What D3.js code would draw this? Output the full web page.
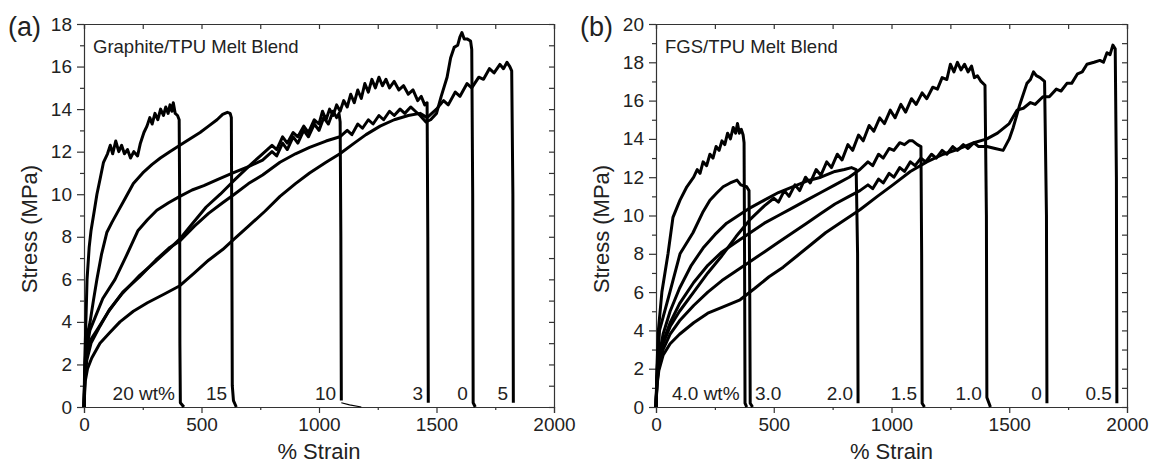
<!DOCTYPE html>
<html>
<head>
<meta charset="utf-8">
<script src="https://cdn.jsdelivr.net/npm/d3@7"></script>
<style>
  body { margin: 0; background: #fff; }
  svg { display: block; font-family: "Liberation Sans", Arial, sans-serif; }
  .domain { stroke: #333; stroke-width: 1.2; }
  .tick line { stroke: #333; stroke-width: 1.2; }
</style>
</head>
<body>
<div id="chart"></div>
<script>
// ---- Graphite/TPU melt blend: [strain %, stress MPa] ----
const graphite20 = [[0,0],[3,2],[8,4],[13,6],[22,7.5],[30,8.3],[45,9.3],[55,10],[70,10.8],[83,11.5],[100,11.9],
  [112,12.3],[122,11.9],[135,12.5],[148,12.0],[160,12.3],[172,11.9],[185,12.1],[198,11.7],[212,12.0],[228,11.8],
  [240,12.4],[255,12.9],[268,13.2],[280,13.6],[290,13.3],[302,13.8],[314,13.5],[326,14.0],[338,13.7],[348,14.1],
  [358,13.8],[366,14.2],[374,13.9],[380,14.3],[388,13.8],[398,13.7],[405,13.5],[407,10],[408,3],[410,0.2],[425,0]];
const graphite15 = [[0,0],[4,2],[12,3.3],[26,4.0],[40,5.0],[55,6.0],[75,7.2],[97,8.2],[120,8.7],[140,9.1],[175,9.8],
  [210,10.5],[250,11.0],[290,11.4],[325,11.7],[365,12.0],[408,12.3],[450,12.6],[494,12.9],[530,13.2],[566,13.5],
  [590,13.75],[610,13.85],[622,13.8],[627,13.6],[629,8],[631,1],[636,0.3],[648,0]];
const graphite10 = [[0,0],[4,1.6],[12,2.8],[25,3.6],[47,4.2],[80,5.1],[132,6.0],[180,7.1],[230,8.3],[270,8.8],
  [310,9.25],[360,9.6],[408,9.9],[460,10.2],[510,10.4],[570,10.7],[634,11.0],[700,11.3],[760,11.6],[800,12.0],
  [820,11.8],[845,12.4],[865,12.1],[890,12.7],[910,12.4],[935,13.0],[955,12.7],[980,13.3],[1000,13.0],[1020,13.6],
  [1040,13.3],[1060,13.9],[1075,13.6],[1085,13.8],[1090,13.4],[1093,8],[1095,0.3]];
const graphite10Tail = [[1095,0.2],[1130,0.1],[1180,0]];
const graphite3 = [[0,0],[4,1.3],[12,2.2],[30,3.0],[68,3.8],[110,4.6],[160,5.3],[238,6.2],[300,6.8],[360,7.4],
  [408,7.9],[460,8.6],[520,9.4],[580,10.0],[634,10.6],[700,11.3],[760,11.9],[800,12.3],[820,12.1],[845,12.7],
  [865,12.4],[890,12.9],[910,12.7],[935,13.2],[955,12.9],[980,13.5],[1000,13.3],[1015,13.9],[1030,13.5],
  [1045,14.0],[1060,13.7],[1075,14.2],[1090,13.9],[1105,14.4],[1120,14.1],[1135,14.7],[1150,14.3],[1165,14.9],
  [1180,14.5],[1195,15.2],[1210,14.8],[1225,15.4],[1240,15.0],[1255,15.5],[1270,15.1],[1285,15.4],[1300,15.0],
  [1320,15.3],[1340,14.9],[1360,15.1],[1380,14.7],[1400,14.9],[1420,14.4],[1435,14.6],[1450,14.2],[1460,14.3],
  [1463,8],[1465,0.2]];
const graphite0 = [[0,0],[3,1.3],[9,2.3],[25,3.1],[60,3.7],[105,4.5],[165,5.4],[235,6.1],[305,6.9],[365,7.5],
  [408,7.8],[470,8.5],[530,9.1],[590,9.6],[640,10.0],[700,10.5],[760,10.9],[834,11.5],[900,11.9],[960,12.2],
  [1030,12.5],[1089,12.7],[1120,13.0],[1140,12.8],[1165,13.3],[1185,13.1],[1210,13.5],[1230,13.3],[1255,13.7],
  [1275,13.5],[1300,13.9],[1320,13.7],[1345,14.0],[1365,13.8],[1390,14.1],[1410,13.9],[1430,13.7],[1455,13.4],
  [1475,13.5],[1500,13.8],[1520,14.6],[1545,15.5],[1560,16.4],[1575,16.9],[1590,17.0],[1600,17.4],[1608,17.6],
  [1618,17.3],[1630,17.3],[1645,17.2],[1650,16.8],[1654,10],[1656,0.2],[1665,0]];
const graphite5 = [[0,0],[5,1.2],[15,1.8],[33,2.3],[68,3.0],[110,3.5],[153,4.0],[210,4.5],[270,4.9],[340,5.3],
  [408,5.7],[470,6.3],[530,6.9],[590,7.4],[635,7.85],[700,8.5],[770,9.2],[834,9.9],[900,10.5],[960,11.0],
  [1030,11.5],[1089,11.9],[1150,12.4],[1200,12.8],[1260,13.2],[1320,13.5],[1380,13.7],[1430,13.8],[1460,13.6],
  [1500,14.0],[1530,14.4],[1550,14.2],[1580,14.8],[1600,14.6],[1630,15.2],[1650,15.0],[1680,15.5],[1700,15.4],
  [1725,15.9],[1745,15.7],[1770,16.1],[1785,15.9],[1800,16.2],[1812,16.0],[1820,15.8],[1825,10],[1827,0.2]];

// ---- FGS/TPU melt blend ----
const fgs40 = [[0,0],[4,2],[10,4],[25,6],[51,8],[72,9.9],[102,10.8],[131,11.5],[160,12.0],[175,12.4],[187,12.2],
  [200,12.8],[215,12.6],[229,13.2],[242,13.0],[255,13.6],[268,13.4],[280,13.9],[292,13.7],[304,14.3],[316,14.0],
  [328,14.6],[338,14.3],[346,14.8],[354,14.3],[362,14.5],[370,14.2],[374,13.8],[376,8],[378,0.2],[385,0]];
const fgs30 = [[0,0],[5,2],[15,4],[59,6],[102,8],[157,9.1],[200,10.2],[229,10.8],[260,11.2],[285,11.5],[315,11.7],
  [344,11.85],[360,11.6],[385,11.5],[395,11.3],[398,6],[400,0.2],[410,0]];
const fgs20 = [[0,0],[4,1.5],[12,2.6],[30,3.8],[60,5.0],[100,6.2],[150,7.4],[200,8.3],[250,9.0],[300,9.6],[350,10.0],
  [400,10.4],[460,10.8],[520,11.2],[580,11.5],[640,11.8],[700,12.0],[760,12.3],[800,12.4],[830,12.5],[850,12.4],
  [856,8],[858,0.2]];
const fgs15 = [[0,0],[4,1.4],[12,2.4],[30,3.4],[60,4.4],[100,5.4],[160,6.5],[220,7.4],[280,8.1],[340,8.6],[400,9.1],
  [460,9.6],[520,10.0],[580,10.4],[640,10.8],[700,11.2],[760,11.6],[820,12.0],[866,12.4],[900,12.8],[920,12.6],
  [945,13.2],[965,13.0],[990,13.5],[1010,13.4],[1035,13.8],[1055,13.7],[1075,13.9],[1090,13.9],[1110,13.7],
  [1125,13.6],[1128,8],[1130,0.2],[1140,0]];
const fgs10 = [[0,0],[4,1.3],[12,2.3],[30,3.3],[60,4.2],[100,5.0],[160,6.0],[220,7.0],[280,7.9],[340,8.9],[400,9.8],
  [460,10.5],[500,10.9],[520,10.7],[545,11.3],[565,11.0],[590,11.6],[610,11.3],[635,12.0],[655,11.7],[680,12.4],
  [700,12.1],[725,12.8],[745,12.5],[770,13.2],[790,12.9],[815,13.7],[835,13.4],[860,14.2],[880,13.9],[905,14.7],
  [925,14.4],[950,15.1],[970,14.8],[995,15.5],[1015,15.1],[1040,15.8],[1060,15.4],[1085,16.1],[1105,15.8],
  [1130,16.4],[1150,16.1],[1175,16.7],[1195,16.6],[1215,17.2],[1235,17.1],[1250,17.9],[1265,17.5],[1280,18.0],
  [1295,17.6],[1310,17.9],[1325,17.5],[1340,17.8],[1352,17.2],[1365,17.3],[1380,17.0],[1397,16.8],[1403,10],
  [1405,0.5],[1420,0]];
const fgs0 = [[0,0],[4,1.2],[12,2.1],[30,3.0],[60,3.8],[100,4.5],[160,5.3],[220,6.0],[280,6.6],[340,7.1],[400,7.6],
  [460,8.1],[520,8.6],[580,9.1],[640,9.6],[700,10.1],[760,10.6],[820,11.0],[866,11.3],[900,11.6],[920,11.4],
  [945,11.9],[965,11.7],[990,12.2],[1010,12.0],[1035,12.5],[1055,12.3],[1080,12.8],[1100,12.6],[1125,13.0],
  [1145,12.8],[1170,13.2],[1190,13.0],[1215,13.4],[1235,13.2],[1260,13.6],[1280,13.4],[1305,13.7],[1325,13.5],
  [1350,13.8],[1370,13.6],[1405,13.6],[1440,13.5],[1474,13.4],[1500,14.0],[1517,14.6],[1545,15.8],[1575,16.9],
  [1590,17.1],[1603,17.5],[1615,17.3],[1631,17.2],[1650,17.0],[1658,10],[1660,0.2]];
const fgs05 = [[0,0],[4,1.1],[12,1.9],[30,2.7],[60,3.3],[100,3.8],[160,4.4],[220,4.9],[280,5.2],[357,5.6],[420,6.2],
  [480,6.8],[540,7.3],[600,7.9],[660,8.5],[720,9.1],[780,9.6],[866,10.3],[940,11.0],[1006,11.6],[1080,12.3],
  [1150,12.8],[1220,13.2],[1291,13.5],[1350,13.8],[1405,14.0],[1450,14.3],[1500,14.8],[1533,15.5],[1560,15.6],
  [1590,15.9],[1610,15.8],[1643,16.2],[1670,16.2],[1700,16.6],[1720,16.5],[1745,16.9],[1765,16.9],[1790,17.4],
  [1810,17.5],[1830,17.9],[1860,18.0],[1885,18.1],[1900,18.0],[1915,18.5],[1928,18.4],[1940,18.9],[1950,18.7],
  [1955,12],[1957,0.2]];

// curve labels: text, strain of the break, side of the break line
const graphiteLabels = [["20 wt%", 408, "left"], ["15", 630, "left"], ["10", 1094, "left"],
  ["3", 1464, "left"], ["0", 1655, "left"], ["5", 1826, "left"]];
const fgsLabels = [["4.0 wt%", 376, "left"], ["3.0", 399, "right"], ["2.0", 858, "left"], ["1.5", 1130, "left"],
  ["1.0", 1405, "left"], ["0", 1660, "left"], ["0.5", 1957, "left"]];

const strainTicks = [0, 500, 1000, 1500, 2000];
const strainMinor = [250, 750, 1250, 1750];

const svg = d3.select("#chart").append("svg")
  .attr("width", 1152)
  .attr("height", 464);

drawPanel({
  left: 84, right: 554, top: 24, bottom: 407,
  yMax: 18, letter: "(a)", title: "Graphite/TPU Melt Blend",
  curves: [graphite20, graphite15, graphite10, graphite3, graphite0, graphite5],
  thin: [graphite10Tail],
  labels: graphiteLabels
});
drawPanel({
  left: 656, right: 1127, top: 24, bottom: 407,
  yMax: 20, letter: "(b)", title: "FGS/TPU Melt Blend",
  curves: [fgs40, fgs30, fgs20, fgs15, fgs10, fgs0, fgs05],
  thin: [],
  labels: fgsLabels
});

function drawPanel(p) {
  const x = d3.scaleLinear().domain([0, 2000]).range([p.left, p.right]);
  const y = d3.scaleLinear().domain([0, p.yMax]).range([p.bottom, p.top]);
  const yMajor = d3.range(0, p.yMax + 1, 2);
  const yMinor = d3.range(1, p.yMax, 2);

  const g = svg.append("g");

  // bottom / left axes, ticks outward
  g.append("g").attr("transform", `translate(0,${p.bottom})`)
    .call(d3.axisBottom(x).tickValues(strainTicks).tickSize(6).tickPadding(5).tickFormat(d3.format("d")))
    .call(a => a.selectAll("text").style("font-size", "19px").attr("fill", "#222"));
  g.append("g").attr("transform", `translate(0,${p.bottom})`)
    .call(d3.axisBottom(x).tickValues(strainMinor).tickSize(3).tickFormat(""))
    .call(a => a.select(".domain").remove());
  g.append("g").attr("transform", `translate(${p.left},0)`)
    .call(d3.axisLeft(y).tickValues(yMajor).tickSize(7).tickPadding(5))
    .call(a => a.selectAll("text").style("font-size", "19px").attr("fill", "#222"));
  g.append("g").attr("transform", `translate(${p.left},0)`)
    .call(d3.axisLeft(y).tickValues(yMinor).tickSize(4).tickFormat(""))
    .call(a => a.select(".domain").remove());

  // top / right mirrors, ticks inward
  g.append("g").attr("transform", `translate(0,${p.top})`)
    .call(d3.axisTop(x).tickValues(strainTicks.concat(strainMinor)).tickSize(-5).tickFormat(""));
  g.append("g").attr("transform", `translate(${p.right},0)`)
    .call(d3.axisRight(y).tickValues(yMajor.concat(yMinor)).tickSize(-5).tickFormat(""));

  const line = d3.line().x(d => x(d[0])).y(d => y(d[1]));
  g.selectAll("path.curve")
    .data(p.curves)
    .join("path")
    .attr("class", "curve")
    .attr("d", line)
    .attr("fill", "none")
    .attr("stroke", "#000")
    .attr("stroke-width", 3)
    .attr("stroke-linejoin", "round");

  // thin trailing bits after a break
  g.selectAll("path.tail")
    .data(p.thin)
    .join("path")
    .attr("class", "tail")
    .attr("d", line)
    .attr("fill", "none")
    .attr("stroke", "#000")
    .attr("stroke-width", 1.2);

  g.selectAll("text.clabel")
    .data(p.labels)
    .join("text")
    .attr("class", "clabel")
    .attr("x", d => d[2] === "left" ? x(d[1]) - 5 : x(d[1]) + 5)
    .attr("y", p.bottom - 7)
    .attr("text-anchor", d => d[2] === "left" ? "end" : "start")
    .style("font-size", "19px")
    .attr("fill", "#222")
    .text(d => d[0]);

  g.append("text")
    .attr("x", p.left + 9)
    .attr("y", p.top + 29)
    .style("font-size", "18.5px")
    .attr("fill", "#222")
    .text(p.title);

  g.append("text")
    .attr("x", p.left - 76)
    .attr("y", p.top + 12)
    .style("font-size", "27px")
    .attr("fill", "#222")
    .text(p.letter);

  g.append("text")
    .attr("x", (p.left + p.right) / 2)
    .attr("y", 459)
    .attr("text-anchor", "middle")
    .style("font-size", "22px")
    .attr("fill", "#222")
    .text("% Strain");

  g.append("text")
    .attr("transform", `translate(${p.left - 47},229) rotate(-90)`)
    .attr("text-anchor", "middle")
    .style("font-size", "22px")
    .attr("fill", "#222")
    .text("Stress (MPa)");
}
</script>
</body>
</html>
